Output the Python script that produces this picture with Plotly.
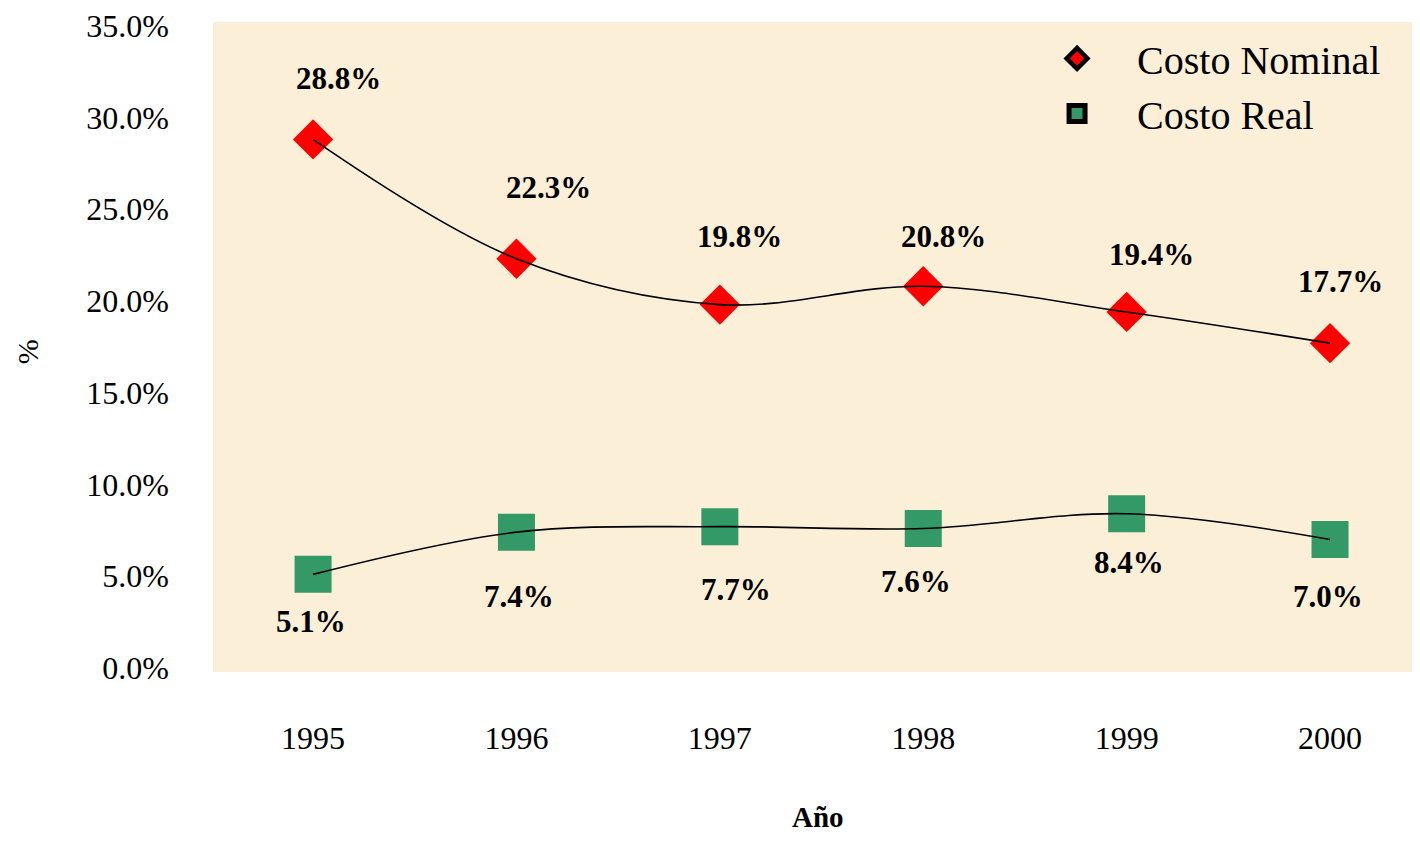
import plotly.graph_objects as go

years = ["1995", "1996", "1997", "1998", "1999", "2000"]
costo_nominal = [28.8, 22.3, 19.8, 20.8, 19.4, 17.7]
costo_real = [5.1, 7.4, 7.7, 7.6, 8.4, 7.0]
y_ticks = [0, 5, 10, 15, 20, 25, 30, 35]
y_tick_labels = [f"{v:.1f}%" for v in y_ticks]

# label offsets (pixels) – styling only
nominal_label_dx = [25, 32, 20, 20, 25, 10]
nominal_label_dy = [61, 71, 68, 50, 57, 62]
real_label_dx = [-2, 3, 16, -7, 2, -2]
real_label_dy = [-47, -64, -63, -53, -49, -57]

RED = "#FF0000"
GREEN = "#339966"
SERIF = "Liberation Serif, Times New Roman, serif"

fig = go.Figure()

# markers
fig.add_trace(go.Scatter(x=years, y=costo_nominal, mode="markers", showlegend=False,
                         marker=dict(symbol="diamond", size=31, color=RED), hoverinfo="skip"))
fig.add_trace(go.Scatter(x=years, y=costo_real, mode="markers", showlegend=False,
                         marker=dict(symbol="square", size=37, color=GREEN), hoverinfo="skip"))
# smoothed lines
fig.add_trace(go.Scatter(x=years, y=costo_nominal, mode="lines", showlegend=False,
                         line=dict(color="black", width=1.6, shape="spline", smoothing=1.0)))
fig.add_trace(go.Scatter(x=years, y=costo_real, mode="lines", showlegend=False,
                         line=dict(color="black", width=1.6, shape="spline", smoothing=1.0)))
# legend entries
fig.add_trace(go.Scatter(x=[None], y=[None], mode="markers", name="Costo Nominal",
                         marker=dict(symbol="diamond", size=17, color=RED,
                                     line=dict(color="black", width=4.5))))
fig.add_trace(go.Scatter(x=[None], y=[None], mode="markers", name="Costo Real",
                         marker=dict(symbol="square", size=22, color=GREEN,
                                     line=dict(color="black", width=5.5))))

label_font = dict(family=SERIF, size=31, color="black", weight="bold")
annotations = []
for i, v in enumerate(costo_nominal):
    annotations.append(dict(x=i, y=v, xref="x", yref="y", text=f"{v:.1f}%",
                            showarrow=False, xshift=nominal_label_dx[i],
                            yshift=nominal_label_dy[i], font=label_font))
for i, v in enumerate(costo_real):
    annotations.append(dict(x=i, y=v, xref="x", yref="y", text=f"{v:.1f}%",
                            showarrow=False, xshift=real_label_dx[i],
                            yshift=real_label_dy[i], font=label_font))
# axis titles
annotations.append(dict(x=0.5046, y=-0.2515, xref="paper", yref="paper", text="<b>Año</b>",
                        showarrow=False, xanchor="center", yanchor="bottom",
                        font=dict(family=SERIF, size=29, color="black")))
annotations.append(dict(x=-0.155, y=0.492, xref="paper", yref="paper", text="%",
                        textangle=-90, showarrow=False, xanchor="center", yanchor="middle",
                        font=dict(family=SERIF, size=30, color="black")))

fig.update_layout(
    width=1404, height=828,
    margin=dict(l=205, r=0, t=14, b=164, autoexpand=False),
    paper_bgcolor="white",
    plot_bgcolor="#FBEFD7",
    font=dict(family=SERIF, color="black"),
    annotations=annotations,
    legend=dict(x=0.6706, y=0.994, xanchor="left", yanchor="top",
                bgcolor="rgba(0,0,0,0)", font=dict(family=SERIF, size=40),
                itemwidth=110),
    xaxis=dict(type="category", range=[-0.492, 5.403], showgrid=False, zeroline=False,
               showline=False, ticks="", tickfont=dict(size=32), ticklabelstandoff=44,
               automargin=False),
    yaxis=dict(range=[-0.22, 35.2], tickvals=y_ticks, ticktext=y_tick_labels,
               showgrid=False, zeroline=False, showline=False, ticks="",
               tickfont=dict(size=32), ticklabelstandoff=43, ticklabeloverflow="allow",
               automargin=False),
)

fig.write_html("out.html")
